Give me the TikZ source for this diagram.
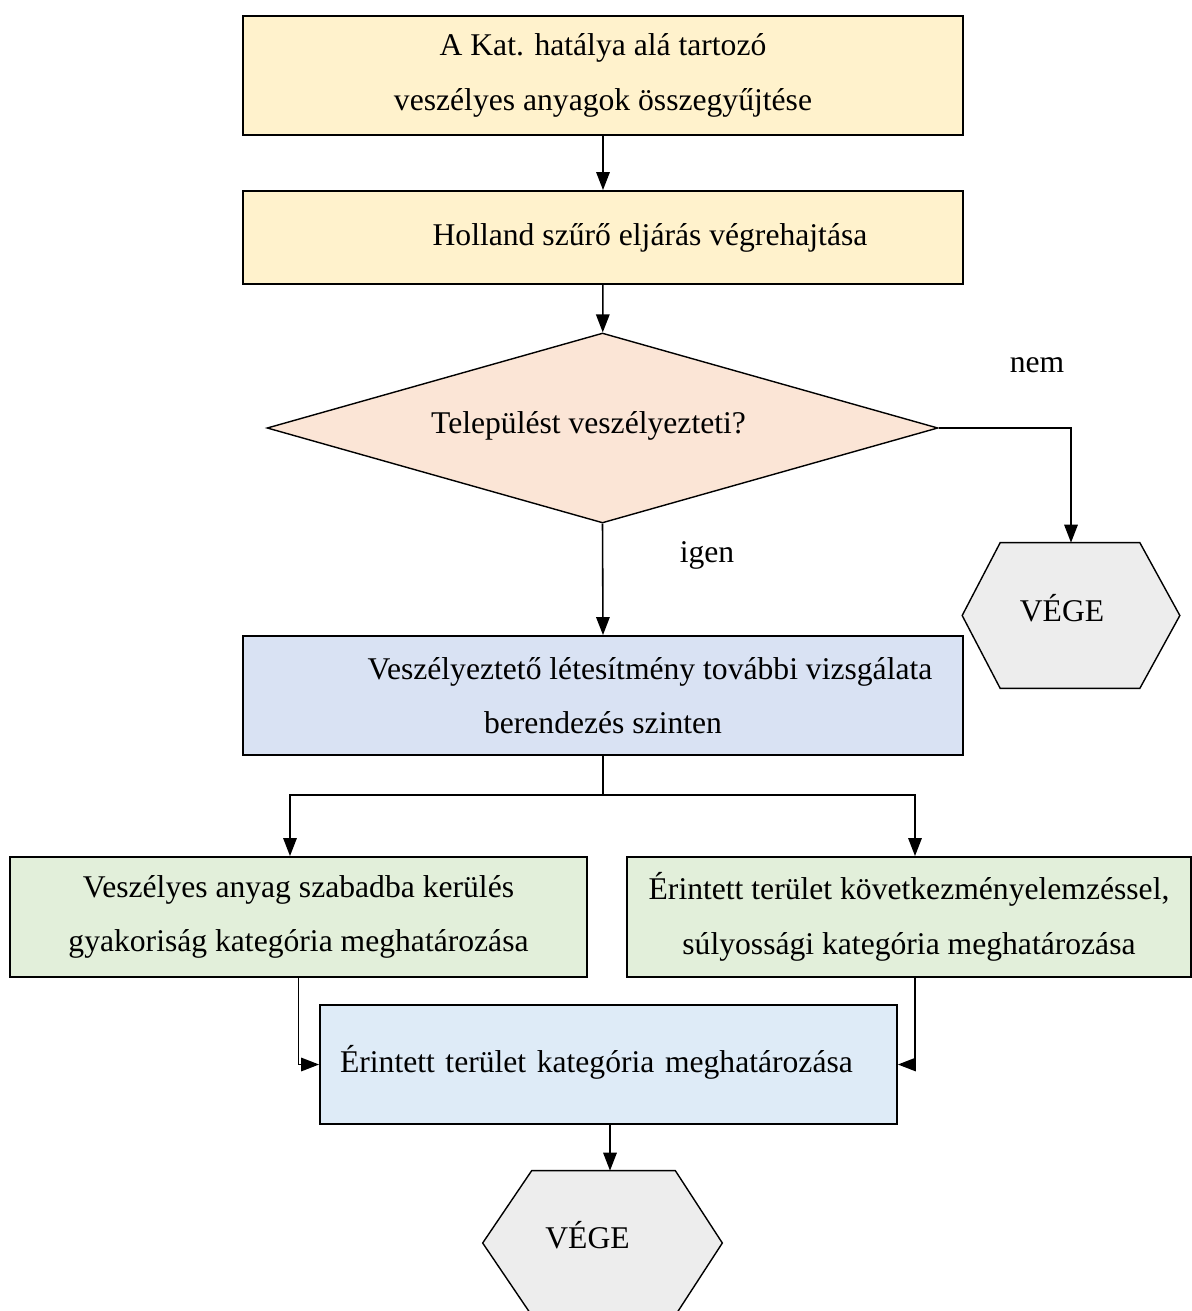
\documentclass[tikz,border=0pt]{standalone}
\usepackage{fontspec}
\setmainfont{Liberation Serif}
\usetikzlibrary{arrows.meta,calc,shapes.geometric,backgrounds}
\definecolor{FlowSand}{HTML}{FFF2CC}
\definecolor{FlowPeach}{HTML}{FBE5D6}
\definecolor{FlowSteel}{HTML}{D9E2F3}
\definecolor{FlowSage}{HTML}{E2EFDA}
\definecolor{FlowSky}{HTML}{DEEBF7}
\definecolor{FlowStone}{HTML}{EDEDED}
\definecolor{FlowInk}{gray}{0}
\tikzset{
    flow/diagram/.style={
        x=0.02cm, y=-0.02cm,
        font=\fontsize{18}{31}\selectfont,
        line join=miter,
        >={Triangle[length=3.6mm, width=2.7mm]}
    },
    flow/box/.style={
        rectangle, draw=FlowInk, line width=1.1pt,
        minimum width=14.4cm, minimum height=2.38cm,
        inner sep=0pt, align=center
    },
    flow/decision/.style={
        diamond, draw=FlowInk, line width=0.8pt, fill=FlowPeach,
        shape aspect=3.5, minimum width=13.42cm, minimum height=3.8cm,
        inner sep=0pt
    },
    flow/terminal/.style={rectangle, draw=none, inner sep=0pt},
    flow/hexagon/.style={draw=FlowInk, line width=0.8pt, fill=FlowStone},
    flow/arrow/.style={draw=FlowInk, line width=0.9pt, ->},
    flow/line/.style={draw=FlowInk, line width=0.9pt},
    flow/label/.style={inner sep=1pt}
}
\begin{document}
\begin{tikzpicture}[flow/diagram]
    \useasboundingbox (0,0) rectangle (1192,1311);
    \node[flow/box, fill=FlowSand] (collect) at (603,75.5)
        {A Kat. hatálya alá tartozó\\veszélyes anyagok összegyűjtése};
    \node[flow/box, fill=FlowSand, minimum height=1.86cm] (holland) at (603,237.5)
        {\hspace*{1.88cm}Holland szűrő eljárás végrehajtása};
    \node[flow/decision] (threat) at (602.5,428)
        {\raisebox{0.22cm}{Települést veszélyezteti?}\hspace*{0.56cm}};
    \node[flow/terminal, minimum width=4.34cm, minimum height=2.9cm]
        (vegeA) at (1071,615.5) {\raisebox{0.32cm}{VÉGE}\hspace*{0.36cm}};
    \node[flow/box, fill=FlowSteel] (inspect) at (603,695.5)
        {\hspace*{1.88cm}Veszélyeztető létesítmény további vizsgálata\\berendezés szinten};
    \coordinate (split) at (603,795);
    \node[flow/box, fill=FlowSage, minimum width=11.54cm, minimum height=2.4cm]
        (freq) at (298.5,917)
        {Veszélyes anyag szabadba kerülés\\gyakoriság kategória meghatározása};
    \node[flow/box, fill=FlowSage, minimum width=11.28cm, minimum height=2.4cm]
        (sever) at (909,917)
        {Érintett terület következményelemzéssel,\\súlyossági kategória meghatározása};
    \node[flow/box, fill=FlowSky, minimum width=11.54cm, inner xsep=0.4cm,
        text width=10.74cm, align=left] (area) at (608.5,1064.5)
        {\raisebox{0.22cm}{Érintett terület kategória meghatározása}};
    \node[flow/terminal, minimum width=4.78cm, minimum height=2.88cm]
        (vegeB) at (602.5,1243) {\raisebox{0.34cm}{VÉGE}\hspace*{0.6cm}};
    \node[flow/label] (nem) at (1037,365) {nem};
    \node[flow/label] (igen) at (707,555) {igen};
    % hexagon outlines behind the VÉGE texts
    \begin{scope}[on background layer]
        \path[flow/hexagon] (vegeA.west) -- ([xshift=0.76cm]vegeA.north west)
            -- ([xshift=-0.8cm]vegeA.north east) -- (vegeA.east)
            -- ([xshift=-0.8cm]vegeA.south east) -- ([xshift=0.76cm]vegeA.south west)
            -- cycle;
        \path[flow/hexagon] (vegeB.west) -- ([xshift=0.98cm]vegeB.north west)
            -- ([xshift=-0.94cm]vegeB.north east) -- (vegeB.east)
            -- ([xshift=-0.94cm]vegeB.south east) -- ([xshift=0.98cm]vegeB.south west)
            -- cycle;
    \end{scope}
    \draw[flow/arrow] (collect) -- (holland);
    \draw[flow/arrow] (holland) -- (threat);
    \draw[flow/arrow] (threat.east) -| (vegeA.north);
    \draw[flow/arrow] (threat.south) -- (inspect.north);
    \draw[flow/line] (inspect.south) -- (split);
    \draw[flow/arrow] (split) -| ([xshift=-0.17cm]freq.north);
    \draw[flow/arrow] (split) -| ([xshift=0.12cm]sever.north);
    \draw[flow/arrow] (freq.south) |- (area.west);
    \draw[flow/arrow] ([xshift=0.12cm]sever.south) |- (area.east);
    \draw[flow/arrow] ([xshift=0.03cm]area.south) -- ([xshift=0.03cm]area.south |- vegeB.north);
\end{tikzpicture}
\end{document}
